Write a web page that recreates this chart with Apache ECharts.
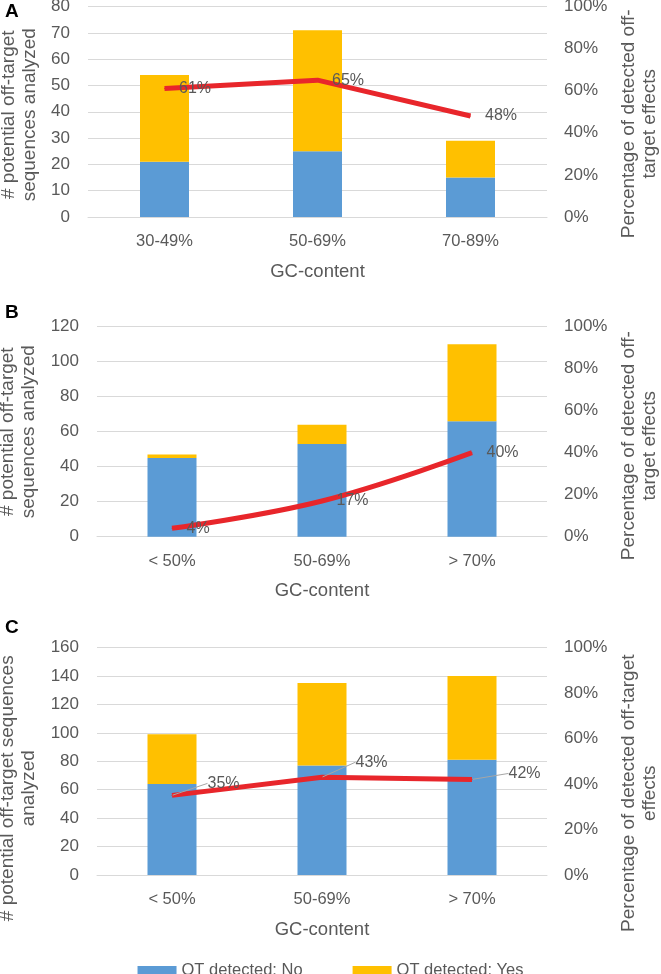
<!DOCTYPE html>
<html><head><meta charset="utf-8">
<script src="https://cdn.jsdelivr.net/npm/echarts@6/dist/echarts.min.js"></script>
<style>html,body{margin:0;padding:0;background:#fff}#chart{width:661px;height:974px}</style>
</head><body><div id="chart"></div>
<script>
// ---- data ----
const categoriesA = ['30-49%', '50-69%', '70-89%'];
const categoriesB = ['< 50%', '50-69%', '> 70%'];
const categoriesC = ['< 50%', '50-69%', '> 70%'];
const otNoA = [21, 25, 15];
const otYesA = [33, 46, 14];
const pctA = [61, 65, 48];
const otNoB = [45, 53, 66];
const otYesB = [2, 11, 44];
const pctB = [4, 17, 40];
const otNoC = [64, 77, 81];
const otYesC = [35, 58, 59];
const pctC = [35, 43, 42];
const countAxisMax = [80, 120, 160];
const countAxisStep = [10, 20, 20];
const pctAxisMax = 100;
const pctAxisStep = 20;
const seriesNames = ['OT detected: No', 'OT detected: Yes'];
const xTitle = 'GC-content';
const leftTitles = ['# potential off-target\nsequences analyzed', '# potential off-target\nsequences analyzed', '# potential off-target sequences\nanalyzed'];
const rightTitles = ['Percentage of detected off-\ntarget effects', 'Percentage of detected off-\ntarget effects', 'Percentage of detected off-target\neffects'];
const panelLetters = ['A', 'B', 'C'];

// ---- styles / layout ----
const FONT = "'Liberation Sans', Arial, sans-serif";
const TXT = '#595959';
const GRIDC = '#d9d9d9';
const BLUE = '#5b9bd5';
const GOLD = '#ffc000';
const RED = '#e8262b';
const grids = [
  {left: 88, top: 6.5, width: 459, height: 210.5, outerBoundsMode: 'none', containLabel: false},
  {left: 97, top: 326.7, width: 450, height: 210, outerBoundsMode: 'none', containLabel: false},
  {left: 97, top: 647.5, width: 450, height: 227.5, outerBoundsMode: 'none', containLabel: false}
];
const leftGap = [43, 54, 52];
const leftShift = [3, 0, 27];
const rightShift = [12, 14, 32];
const letterY = [12, 313, 628];
const labelOffsetsC = [[30, -12], [28, -15], [31, -6]];

const cats = [categoriesA, categoriesB, categoriesC];
const nos = [otNoA, otNoB, otNoC];
const yess = [otYesA, otYesB, otYesC];
const pcts = [pctA, pctB, pctC];

const xAxis = [], yAxis = [], series = [];
for (let i = 0; i < 3; i++) {
  xAxis.push({
    type: 'category', gridIndex: i, data: cats[i],
    axisTick: {show: false},
    axisLine: {lineStyle: {color: GRIDC, width: 1}},
    axisLabel: {color: TXT, fontSize: 16.5, fontFamily: FONT, margin: 16},
    name: xTitle, nameLocation: 'middle', nameGap: 45,
    nameTextStyle: {color: TXT, fontSize: 18.5, fontFamily: FONT}
  });
  yAxis.push({
    type: 'value', gridIndex: i, min: 0, max: countAxisMax[i], interval: countAxisStep[i],
    axisLine: {show: false}, axisTick: {show: false},
    axisLabel: {color: TXT, fontSize: 17, fontFamily: FONT, margin: 18},
    splitLine: {lineStyle: {color: GRIDC, width: 1}},
    name: leftTitles[i], nameLocation: 'middle', nameGap: leftGap[i],
    nameTextStyle: {color: TXT, fontSize: 19, lineHeight: 21, fontFamily: FONT, padding: [0, 2 * leftShift[i], 0, 0]}
  });
  yAxis.push({
    type: 'value', gridIndex: i, position: 'right', min: 0, max: pctAxisMax, interval: pctAxisStep,
    axisLine: {show: false}, axisTick: {show: false},
    axisLabel: {color: TXT, fontSize: 17, fontFamily: FONT, margin: 17, formatter: '{value}%'},
    splitLine: {show: false},
    name: rightTitles[i], nameLocation: 'middle', nameGap: 69.5,
    nameTextStyle: {color: TXT, fontSize: 19, lineHeight: 21, fontFamily: FONT, padding: [0, 2 * rightShift[i], 0, 0]}
  });
  series.push({
    name: seriesNames[0], type: 'bar', stack: 's' + i, xAxisIndex: i, yAxisIndex: 2 * i,
    data: nos[i], barWidth: 49, itemStyle: {color: BLUE}
  });
  series.push({
    name: seriesNames[1], type: 'bar', stack: 's' + i, xAxisIndex: i, yAxisIndex: 2 * i,
    data: yess[i], barWidth: 49, itemStyle: {color: GOLD}
  });
  const line = {
    name: 'pct' + i, type: 'line', xAxisIndex: i, yAxisIndex: 2 * i + 1, data: pcts[i],
    symbol: 'circle', symbolSize: 1, itemStyle: {color: RED},
    lineStyle: {color: RED, width: 5}, z: 5,
    smooth: i === 1 ? 0.4 : false,
    label: {show: true, position: 'right', distance: 14, formatter: '{c}%', color: TXT, fontSize: 16, fontFamily: FONT}
  };
  if (i === 2) {
    line.label.distance = 5;
    line.labelLine = {show: true, lineStyle: {color: '#a6a6a6', width: 1}};
    line.labelLayout = function (p) { const o = labelOffsetsC[p.dataIndex]; return {dx: o[0], dy: o[1]}; };
  }
  series.push(line);
}

const chart = echarts.init(document.getElementById('chart'), null, {renderer: 'canvas'});
chart.setOption({
  animation: false,
  backgroundColor: '#fff',
  grid: grids,
  xAxis: xAxis,
  yAxis: yAxis,
  series: series,
  legend: {
    data: seriesNames, left: 'center', top: 957, icon: 'rect',
    itemWidth: 39, itemHeight: 9, itemGap: 50,
    textStyle: {color: TXT, fontSize: 16.5, fontFamily: FONT}
  },
  graphic: panelLetters.map((t, i) => ({
    type: 'text', left: 5, top: letterY[i] - 10,
    style: {text: t, font: "bold 19px 'Liberation Sans', Arial, sans-serif", fill: '#000'}
  }))
});
</script></body></html>
